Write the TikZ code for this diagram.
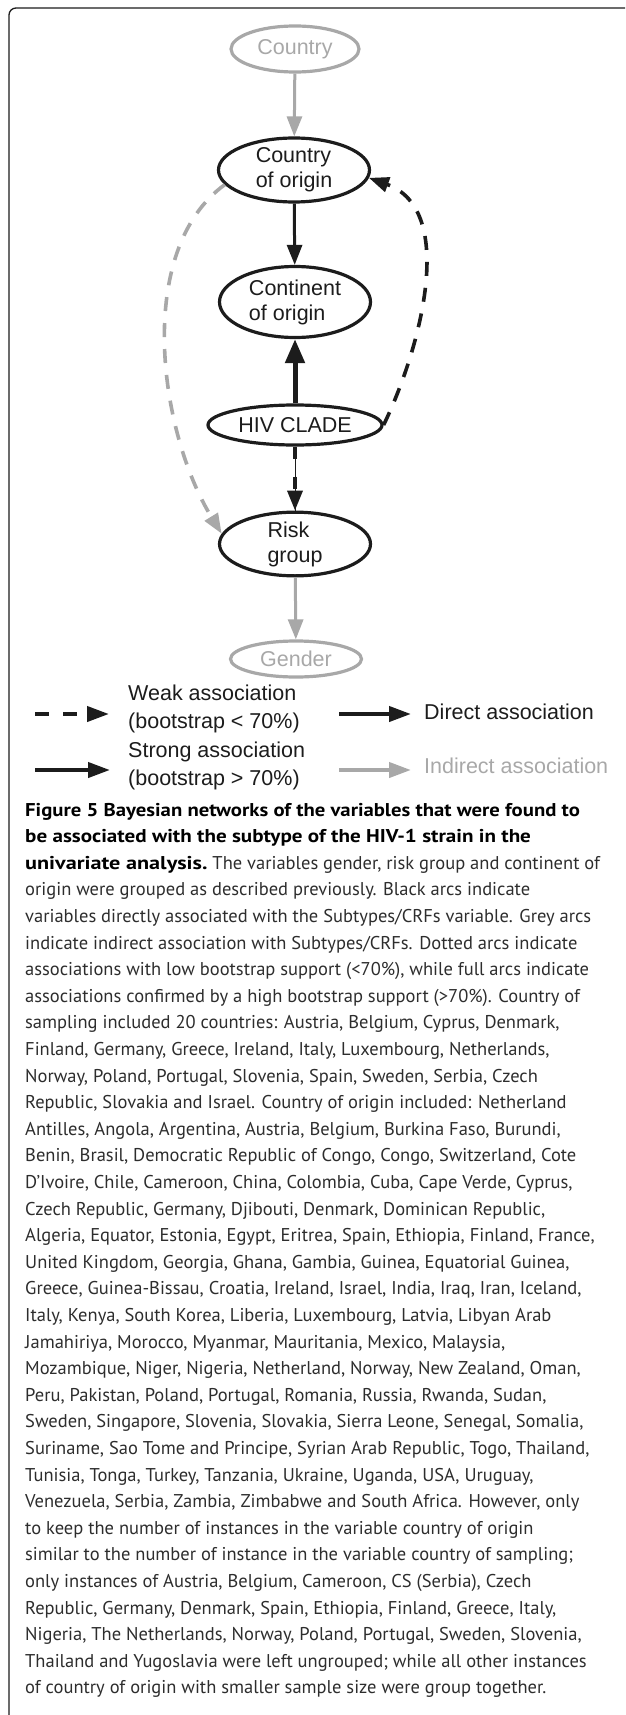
\documentclass[tikz,border=0pt]{standalone}
\usepackage{graphicx}
\usepackage{fontspec}
\setmainfont{Liberation Sans}
\newfontfamily\capfont{PT Sans}
\usetikzlibrary{shapes.geometric,arrows.meta}
\definecolor{ink}{RGB}{28,28,28}
\definecolor{lgrey}{RGB}{168,168,168}
\definecolor{captext}{RGB}{45,45,45}
\newcommand{\capbf}[2][1.13]{\scalebox{#1}[1]{\capfont\bfseries\color{black}#2}}
\begin{document}
\begin{tikzpicture}[x=1pt,y=-1pt,
  var/.style={ellipse, draw=ink, line width=3.2pt, inner sep=0pt, text=ink, align=left, font=\fontsize{21.5}{25}\selectfont},
  gvar/.style={var, draw=lgrey, text=lgrey},
  headtip/.style={-{Triangle[length=20pt,width=15pt]}},
  blackarc/.style={headtip, draw=ink, line width=3pt},
  greyarc/.style={headtip, draw=lgrey, line width=3pt},
  weakdash/.style={dash pattern=on 14pt off 12pt},
  legline/.style={line width=4pt, -{Triangle[length=22pt,width=15pt]}},
  legtext/.style={anchor=west, inner sep=0pt, align=left, font=\fontsize{21.5}{28}\selectfont}
]
\useasboundingbox (0,0) rectangle (625,1715);
\draw[ink, line width=1.3pt, rounded corners=7pt] (9,1715) -- (9,8) -- (625,8);

% nodes
\node[gvar, minimum width=128pt, minimum height=46pt] (country) at (295,49) {Country};
\node[var, minimum width=151pt, minimum height=64pt] (coo) at (294,170) {Country\\of origin};
\node[var, minimum width=151pt, minimum height=71pt] (cont) at (295,302) {Continent\\of origin};
\node[var, minimum width=174pt, minimum height=40pt] (hiv) at (295,425) {HIV CLADE};
\node[var, minimum width=151pt, minimum height=62pt] (risk) at (295,544) {Risk\\group};
\node[gvar, minimum width=131pt, minimum height=36pt] (gender) at (296,659) {Gender};

% arcs
\draw[greyarc] (country) -- (coo);
\draw[blackarc] (coo) -- (cont);
\draw[blackarc, line width=5pt, -{Triangle[length=24pt,width=19pt]}] (hiv) -- (cont);
\draw[blackarc, line width=3.6pt, weakdash] (hiv.east) .. controls (420,350) and (458,210) .. (coo.-6);
\draw[greyarc, line width=3.6pt, weakdash] (coo.-168) .. controls (135,250) and (158,430) .. (risk.172);
\draw[ink, line width=0.8pt] (hiv) -- (risk);
\draw[blackarc, line width=3.6pt, dash pattern=on 12pt off 18pt] (hiv) -- (risk);
\draw[greyarc] (risk) -- (gender);

% legend
\coordinate (l1a) at (35,714); \coordinate (l1b) at (109,714);
\coordinate (l2a) at (35,770); \coordinate (l2b) at (110,770);
\coordinate (l3a) at (339,714); \coordinate (l3b) at (411,714);
\coordinate (l4a) at (339,770); \coordinate (l4b) at (411,770);
\draw[legline, ink, dash pattern=on 14pt off 14pt] (l1a) -- (l1b);
\draw[legline, ink] (l2a) -- (l2b);
\draw[legline, ink] (l3a) -- (l3b);
\draw[legline, lgrey] (l4a) -- (l4b);
\node[legtext, text=ink] (weak) at (128,709) {Weak association\\(bootstrap < 70\%)};
\node[legtext, text=ink] (strong) at (128,766) {Strong association\\(bootstrap > 70\%)};
\node[legtext, text=ink] (direct) at (424,712) {Direct association};
\node[legtext, text=lgrey] (indirect) at (424,766) {Indirect association};

% caption
\node[anchor=base west, inner sep=0pt, text=captext, font=\capfont\fontsize{18.5}{26.6}\selectfont] (caption) at (25,816) {\vtop{%
\hbox{\capbf[1.12]{Figure 5 Bayesian networks of the variables that were found to}}
\hbox{\capbf[1.14]{be associated with the subtype of the HIV-1 strain in the}}
\hbox{\capbf[1.2]{univariate analysis.} The variables gender, risk group and continent of}
\hbox{origin were grouped as described previously. Black arcs indicate}
\hbox{variables directly associated with the Subtypes/CRFs variable. Grey arcs}
\hbox{indicate indirect association with Subtypes/CRFs. Dotted arcs indicate}
\hbox{associations with low bootstrap support (<70\%), while full arcs indicate}
\hbox{associations confirmed by a high bootstrap support (>70\%). Country of}
\hbox{sampling included 20 countries: Austria, Belgium, Cyprus, Denmark,}
\hbox{Finland, Germany, Greece, Ireland, Italy, Luxembourg, Netherlands,}
\hbox{Norway, Poland, Portugal, Slovenia, Spain, Sweden, Serbia, Czech}
\hbox{Republic, Slovakia and Israel. Country of origin included: Netherland}
\hbox{Antilles, Angola, Argentina, Austria, Belgium, Burkina Faso, Burundi,}
\hbox{Benin, Brasil, Democratic Republic of Congo, Congo, Switzerland, Cote}
\hbox{D’Ivoire, Chile, Cameroon, China, Colombia, Cuba, Cape Verde, Cyprus,}
\hbox{Czech Republic, Germany, Djibouti, Denmark, Dominican Republic,}
\hbox{Algeria, Equator, Estonia, Egypt, Eritrea, Spain, Ethiopia, Finland, France,}
\hbox{United Kingdom, Georgia, Ghana, Gambia, Guinea, Equatorial Guinea,}
\hbox{Greece, Guinea-Bissau, Croatia, Ireland, Israel, India, Iraq, Iran, Iceland,}
\hbox{Italy, Kenya, South Korea, Liberia, Luxembourg, Latvia, Libyan Arab}
\hbox{Jamahiriya, Morocco, Myanmar, Mauritania, Mexico, Malaysia,}
\hbox{Mozambique, Niger, Nigeria, Netherland, Norway, New Zealand, Oman,}
\hbox{Peru, Pakistan, Poland, Portugal, Romania, Russia, Rwanda, Sudan,}
\hbox{Sweden, Singapore, Slovenia, Slovakia, Sierra Leone, Senegal, Somalia,}
\hbox{Suriname, Sao Tome and Principe, Syrian Arab Republic, Togo, Thailand,}
\hbox{Tunisia, Tonga, Turkey, Tanzania, Ukraine, Uganda, USA, Uruguay,}
\hbox{Venezuela, Serbia, Zambia, Zimbabwe and South Africa. However, only}
\hbox{to keep the number of instances in the variable country of origin}
\hbox{similar to the number of instance in the variable country of sampling;}
\hbox{only instances of Austria, Belgium, Cameroon, CS (Serbia), Czech}
\hbox{Republic, Germany, Denmark, Spain, Ethiopia, Finland, Greece, Italy,}
\hbox{Nigeria, The Netherlands, Norway, Poland, Portugal, Sweden, Slovenia,}
\hbox{Thailand and Yugoslavia were left ungrouped; while all other instances}
\hbox{of country of origin with smaller sample size were group together.}}};
\end{tikzpicture}
\end{document}
